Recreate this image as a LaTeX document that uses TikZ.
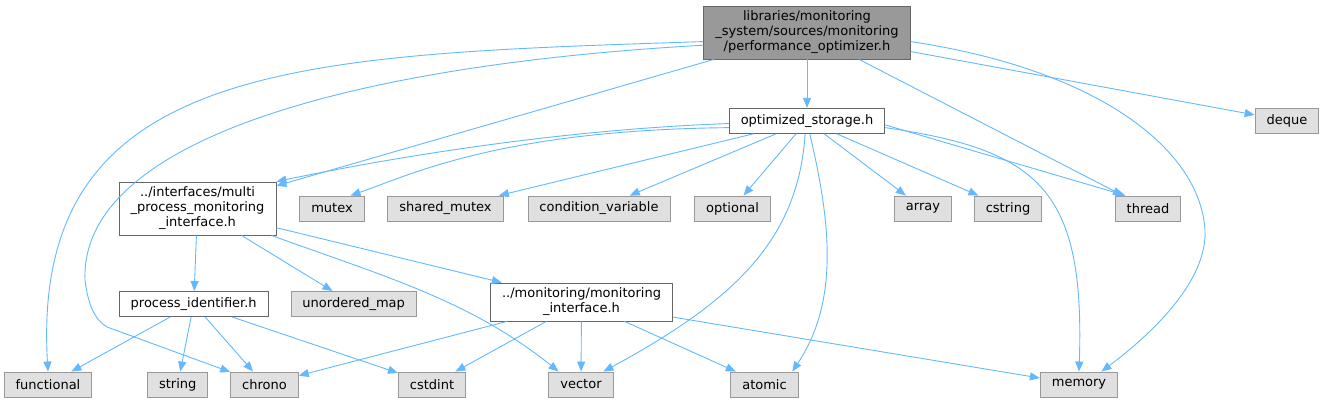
\documentclass[tikz,border=0pt]{standalone}
\usepackage{fontspec}
\setmainfont{DejaVu Sans}
\usepackage{tikz}
\usetikzlibrary{arrows.meta}
\definecolor{edge}{HTML}{63B8FF}
\definecolor{sysfill}{HTML}{E0E0E0}
\definecolor{sysline}{HTML}{999999}
\definecolor{hdrline}{HTML}{666666}
\definecolor{topfill}{HTML}{999999}

\begin{document}
\begin{tikzpicture}[x=1pt,y=-1pt,>={Triangle[length=10pt,width=8pt]},
   box/.style={draw=#1,line width=0.9pt,inner xsep=11.5pt,inner ysep=5pt,minimum height=25pt,align=center,font=\fontsize{13}{15}\selectfont},
   top/.style={box=hdrline,fill=topfill},
   hdr/.style={box=hdrline,fill=white},
   sys/.style={box=sysline,fill=sysfill},
   dep/.style={->,draw=edge,line width=0.9pt}]
  \useasboundingbox (0,0) rectangle (1324,403);
  \node[top] (main) at (807,32.5) {libraries/monitoring\\\_system/sources/monitoring\\/performance\_optimizer.h};
  \node[hdr] (storage) at (807,120.8) {optimized\_storage.h};
  \node[sys] (deque) at (1287,120.8) {deque};
  \node[hdr] (multiif) at (197.5,208.5) {../interfaces/multi\\\_process\_monitoring\\\_interface.h};
  \node[sys] (mutex) at (332,208.5) {mutex};
  \node[sys] (sharedmutex) at (445.5,208.5) {shared\_mutex};
  \node[sys] (condvar) at (599,208.5) {condition\_variable};
  \node[sys] (optional) at (732.5,208.5) {optional};
  \node[sys] (array) at (923,208.5) {array};
  \node[sys] (cstring) at (1008,208.5) {cstring};
  \node[sys] (thread) at (1148,208.5) {thread};
  \node[hdr] (procid) at (193.7,304) {process\_identifier.h};
  \node[sys] (umap) at (353.7,304) {unordered\_map};
  \node[hdr] (monif) at (581.5,302) {../monitoring/monitoring\\\_interface.h};
  \node[sys] (functional) at (48,384.5) {functional};
  \node[sys] (string) at (177.7,384.5) {string};
  \node[sys] (chrono) at (264.5,384.5) {chrono};
  \node[sys] (cstdint) at (432,384.5) {cstdint};
  \node[sys] (vector) at (581,384.5) {vector};
  \node[sys] (atomic) at (764.5,384.5) {atomic};
  \node[sys] (memory) at (1079,384.5) {memory};

  \draw[dep] (main) -- (storage);
  \draw[dep] (main) -- (multiif);
  \draw[dep] (main) -- (thread);
  \draw[dep] (main) -- (deque);
  \draw[dep] (main.185) .. controls (300,55) and (30,60) .. (functional.north);
  \draw[dep] (main.187) .. controls (350,65) and (80,140) .. (85,280) .. controls (88,305) and (95,320) .. (107,327) -- (chrono.160);
  \draw[dep] (main.-5) .. controls (1100,70) and (1200,150) .. (1205,230) .. controls (1208,290) and (1130,350) .. (memory.30);

  \draw[dep] (storage.182) .. controls (550,130) and (380,160) .. (multiif.north east);
  \draw[dep] (storage.185) .. controls (500,130) and (410,175) .. (mutex.35);
  \draw[dep] (storage) -- (sharedmutex);
  \draw[dep] (storage) -- (condvar);
  \draw[dep] (storage) -- (optional);
  \draw[dep] (storage.262) .. controls (798,240) and (735,300) .. (vector.30);
  \draw[dep] (storage.282) .. controls (830,220) and (840,300) .. (atomic.25);
  \draw[dep] (storage) -- (array);
  \draw[dep] (storage) -- (cstring);
  \draw[dep] (storage.-3) -- (thread.150);
  \draw[dep] (storage.-5) .. controls (1040,150) and (1085,190) .. (memory.north);

  \draw[dep] (multiif) -- (procid);
  \draw[dep] (multiif) -- (umap);
  \draw[dep] (multiif) -- (monif);
  \draw[dep] (multiif.-20) .. controls (380,275) and (470,300) .. (vector.150);

  \draw[dep] (procid) -- (functional);
  \draw[dep] (procid) -- (string);
  \draw[dep] (procid) -- (chrono);
  \draw[dep] (procid) -- (cstdint);

  \draw[dep] (monif) -- (chrono);
  \draw[dep] (monif) -- (cstdint);
  \draw[dep] (monif) -- (vector);
  \draw[dep] (monif) -- (atomic);
  \draw[dep] (monif) -- (memory);
\end{tikzpicture}
\end{document}
